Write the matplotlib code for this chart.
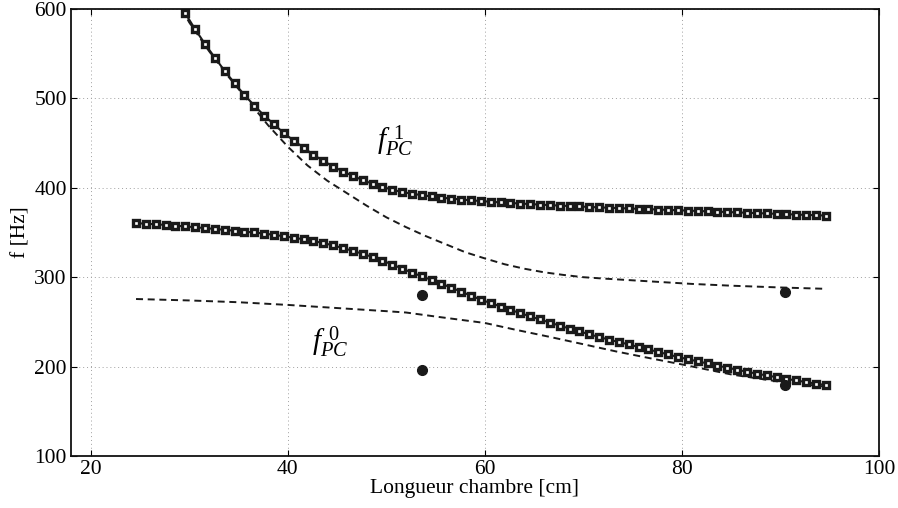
import matplotlib
matplotlib.use("Agg")
import matplotlib.pyplot as plt

plt.rcParams['font.family'] = ['Liberation Serif', 'DejaVu Serif']
plt.rcParams['mathtext.fontset'] = 'custom'
plt.rcParams['mathtext.rm'] = 'Liberation Serif'
plt.rcParams['mathtext.it'] = 'Liberation Serif:italic'

# ---- data ----
x_mark = [24.6, 25.6, 26.6, 27.6, 28.6, 29.6, 30.6, 31.6, 32.6, 33.6,
          34.6, 35.6, 36.6, 37.6, 38.6, 39.6, 40.6, 41.6, 42.6, 43.6,
          44.6, 45.6, 46.6, 47.6, 48.6, 49.6, 50.6, 51.6, 52.6, 53.6,
          54.6, 55.6, 56.6, 57.6, 58.6, 59.6, 60.6, 61.6, 62.6, 63.6,
          64.6, 65.6, 66.6, 67.6, 68.6, 69.6, 70.6, 71.6, 72.6, 73.6,
          74.6, 75.6, 76.6, 77.6, 78.6, 79.6, 80.6, 81.6, 82.6, 83.6,
          84.6, 85.6, 86.6, 87.6, 88.6, 89.6, 90.6, 91.6, 92.6, 93.6, 94.6]

f0_mark = [360.5, 359.8, 359.2, 358.5, 357.6, 356.8, 355.9, 354.9, 354.0, 353.0,
           352.0, 351.0, 350.0, 348.8, 347.4, 345.8, 344.2, 342.4, 340.4, 338.2,
           335.6, 332.6, 329.5, 326.2, 322.6, 318.6, 314.2, 309.6, 305.2, 301.0,
           296.9, 292.7, 288.2, 283.8, 279.3, 274.9, 271.0, 267.2, 263.5, 259.8,
           256.2, 252.7, 249.3, 245.8, 242.6, 239.4, 236.2, 233.1, 230.2, 227.5,
           224.8, 222.0, 219.2, 216.4, 213.6, 210.8, 208.3, 205.9, 203.5, 201.1,
           198.8, 196.5, 194.3, 192.1, 190.1, 188.2, 186.3, 184.5, 182.7, 181.0, 179.3]

x_mark1 = [28.6, 29.6, 30.6, 31.6, 32.6, 33.6,
           34.6, 35.6, 36.6, 37.6, 38.6, 39.6, 40.6, 41.6, 42.6, 43.6,
           44.6, 45.6, 46.6, 47.6, 48.6, 49.6, 50.6, 51.6, 52.6, 53.6,
           54.6, 55.6, 56.6, 57.6, 58.6, 59.6, 60.6, 61.6, 62.6, 63.6,
           64.6, 65.6, 66.6, 67.6, 68.6, 69.6, 70.6, 71.6, 72.6, 73.6,
           74.6, 75.6, 76.6, 77.6, 78.6, 79.6, 80.6, 81.6, 82.6, 83.6,
           84.6, 85.6, 86.6, 87.6, 88.6, 89.6, 90.6, 91.6, 92.6, 93.6, 94.6]

f1_mark = [614.0, 595.2, 577.3, 560.9, 545.6, 530.7,
           517.0, 503.9, 492.0, 480.8, 471.1, 461.1, 452.9, 445.0, 436.9, 430.2,
           423.8, 418.2, 413.4, 408.6, 404.5, 401.1, 397.8, 395.3, 393.4, 391.8,
           390.3, 389.0, 387.9, 386.9, 386.0, 385.2, 384.4, 383.7, 383.0, 382.4,
           381.8, 381.2, 380.6, 380.1, 379.6, 379.1, 378.6, 378.1, 377.7, 377.3,
           376.9, 376.5, 376.1, 375.7, 375.3, 374.9, 374.5, 374.1, 373.7, 373.3,
           372.9, 372.5, 372.1, 371.7, 371.3, 370.9, 370.5, 370.1, 369.7, 369.3, 369.0]

x_dash1 = [28.5, 30, 32, 34, 36, 38, 40, 42, 44, 46, 48, 50, 52, 54, 56, 58,
           60, 62, 64, 66, 68, 70, 72, 75, 78, 81, 85, 90, 94.6]
f_dash1 = [615, 585, 553, 524, 497, 470, 446, 425, 408, 394, 380, 367, 356, 346,
           337, 328, 321, 314.5, 309.5, 305.5, 302.5, 300, 298.5, 296.5, 294.5,
           292.5, 290.5, 288.5, 287]

x_dash0 = [24.6, 30, 35, 40, 45, 50, 52, 55, 60, 63, 66.6, 70, 73.3, 76.7,
           80.1, 85.1, 90, 94.6]
f_dash0 = [275.6, 274, 272, 269, 265.5, 262, 260.5, 256, 248.8, 241.5, 233.2,
           225, 217, 209.5, 202.2, 191, 183, 177.5]

x_meas = [53.6, 53.6, 90.5, 90.5]
f_meas = [280.4, 196.6, 284.0, 179.9]

xticks = [20, 40, 60, 80, 100]
yticks = [100, 200, 300, 400, 500, 600]

# ---- figure ----
fig = plt.figure(figsize=(8.98, 5.08), dpi=100)
ax = fig.add_axes([71 / 898, 1 - 456 / 508, (879 - 71) / 898, (456 - 9) / 508])

col = '#1a1a1a'
ax.plot(x_dash1, f_dash1, ls=(0, (3.6, 2.4)), color=col, lw=1.4)
ax.plot(x_dash0, f_dash0, ls=(0, (3.6, 2.4)), color=col, lw=1.4)
ax.plot(x_mark1, f1_mark, '-', color=col, lw=1.5, marker='s', ms=3.8,
        mfc='white', mec=col, mew=2.4)
ax.plot(x_mark, f0_mark, '-', color=col, lw=1.5, marker='s', ms=3.8,
        mfc='white', mec=col, mew=2.4)
ax.plot(x_meas, f_meas, 'o', color=col, ms=7, ls='none')

ax.text(50.9, 452, r'$f_{PC}^{\;\,1}$', fontsize=21, ha='center', va='center')
ax.text(44.3, 227, r'$f_{PC}^{\;\,0}$', fontsize=21, ha='center', va='center')

ax.set_xlim(18, 100)
ax.set_ylim(100, 600)
ax.set_xticks(xticks)
ax.set_yticks(yticks)
ax.grid(True, ls=(0, (1, 3)), color='#a0a0a0', lw=0.7)
ax.tick_params(direction='in', top=True, right=True, length=4, width=0.8,
               labelsize=15.5, pad=3)
for s in ax.spines.values():
    s.set_linewidth(1.3)
    s.set_color('#111111')
ax.set_xlabel('Longueur chambre [cm]', fontsize=15.5, labelpad=0)
ax.set_ylabel('f [Hz]', fontsize=15.5, labelpad=3)

fig.savefig('out.png', dpi=100)
